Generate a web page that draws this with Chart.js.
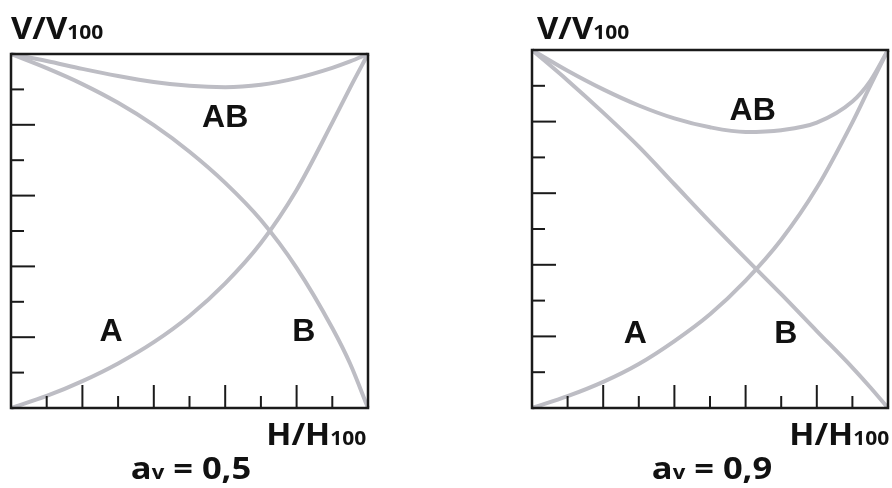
<!DOCTYPE html>
<html lang="pt">
<head>
  <meta charset="UTF-8">
  <title>V/V100 x H/H100</title>
  <script src="https://cdn.jsdelivr.net/npm/chart.js"></script>
  <style>
    body {
      margin: 0;
      width: 892px;
      height: 488px;
      background: #fff;
      position: relative;
      overflow: hidden;
      font-family: 'Open Sans', sans-serif;
    }
    .painel {
      position: absolute;
      top: 0;
      width: 446px;
      height: 488px;
    }
    .rotulo {
      position: absolute;
      font-weight: 700;
      color: #111;
      line-height: 1;
      white-space: nowrap;
    }
    .rotulo small {
      font-size: 0.64em;
    }
    .eixo { font-size: 31px; transform: scaleX(1.06); transform-origin: left top; }
    .eixo.direita { transform-origin: right top; }
    .titulo { font-size: 30px; transform: translateX(-50%) scaleX(1.15); }
  </style>
</head>
<body>
  <div class="painel" style="left:0">
    <canvas id="grafico-05" width="446" height="488"></canvas>
  </div>
  <div class="painel" style="left:446px">
    <canvas id="grafico-09" width="446" height="488"></canvas>
  </div>

  <div class="rotulo eixo" style="left:11px; top:12px">V/V<small>100</small></div>
  <div class="rotulo eixo direita" style="right:526px; top:418px">H/H<small>100</small></div>
  <div class="rotulo titulo" style="left:191px; top:453px">a<small>v</small> = 0,5</div>

  <div class="rotulo eixo" style="left:537px; top:12px">V/V<small>100</small></div>
  <div class="rotulo eixo direita" style="right:3px; top:418px">H/H<small>100</small></div>
  <div class="rotulo titulo" style="left:712px; top:453px">a<small>v</small> = 0,9</div>

  <script>
    // H/H100 (eixo x) comum a todas as curvas
    const hValores = [0, 0.1, 0.2, 0.3, 0.4, 0.5, 0.6, 0.7, 0.8, 0.9, 0.95, 1];

    // av = 0,5
    const curvaA05 = [0, 0.034, 0.076, 0.126, 0.186, 0.26, 0.352, 0.466, 0.616, 0.806, 0.905, 1];
    const curvaB05 = [1, 0.96, 0.915, 0.862, 0.799, 0.724, 0.636, 0.531, 0.396, 0.226, 0.125, 0];
    const curvaAB05 = [1, 0.98, 0.958, 0.938, 0.921, 0.91, 0.906, 0.913, 0.932, 0.961, 0.979, 1];

    // av = 0,9
    const curvaA09 = [0, 0.033, 0.073, 0.123, 0.187, 0.262, 0.356, 0.47, 0.615, 0.798, 0.9, 1];
    const curvaB09 = [1, 0.915, 0.825, 0.73, 0.625, 0.52, 0.418, 0.318, 0.215, 0.113, 0.058, 0];
    const curvaAB09 = [1, 0.942, 0.89, 0.845, 0.809, 0.784, 0.771, 0.776, 0.797, 0.856, 0.913, 1];

    // marcas dos eixos (maiores a cada 0,2)
    const marcas = [0.1, 0.2, 0.3, 0.4, 0.5, 0.6, 0.7, 0.8, 0.9];
    const marcasMaiores = [0.2, 0.4, 0.6, 0.8];

    const corCurva = '#bdbdc4';

    function pontos(valores) {
      return hValores.map((h, i) => ({ x: h, y: valores[i] }));
    }

    function serie(nome, valores) {
      return {
        label: nome,
        data: pontos(valores),
        borderColor: corCurva,
        borderWidth: 4,
        pointRadius: 0,
        cubicInterpolationMode: 'monotone',
        clip: false
      };
    }

    // desenha a moldura, as marcas internas e as letras A, B, AB
    const moldura = {
      id: 'moldura',
      afterDatasetsDraw(chart, args, opcoes) {
        const ctx = chart.ctx;
        const a = chart.chartArea;
        const x = chart.scales.x;
        const y = chart.scales.y;
        ctx.save();
        ctx.strokeStyle = '#1a1a1a';
        ctx.lineWidth = 2.5;
        ctx.strokeRect(a.left, a.top, a.right - a.left, a.bottom - a.top);
        ctx.lineWidth = 2;
        marcas.forEach(v => {
          const maior = marcasMaiores.includes(v);
          const px = x.getPixelForValue(v);
          ctx.beginPath();
          ctx.moveTo(px, a.bottom);
          ctx.lineTo(px, a.bottom - (maior ? 23 : 12));
          ctx.stroke();
          const py = y.getPixelForValue(v);
          ctx.beginPath();
          ctx.moveTo(a.left, py);
          ctx.lineTo(a.left + (maior ? 24 : 13), py);
          ctx.stroke();
        });
        ctx.fillStyle = '#111';
        ctx.font = 'bold 32px "Liberation Sans", Arial, sans-serif';
        ctx.textAlign = 'center';
        ctx.textBaseline = 'middle';
        opcoes.letras.forEach(l => {
          ctx.fillText(l.texto, x.getPixelForValue(l.h), y.getPixelForValue(l.v));
        });
        ctx.restore();
      }
    };

    function criarGrafico(id, a, b, ab, padding, letras) {
      return new Chart(document.getElementById(id), {
        type: 'line',
        data: {
          datasets: [serie('A', a), serie('B', b), serie('AB', ab)]
        },
        options: {
          responsive: false,
          animation: false,
          layout: { padding: padding },
          scales: {
            x: { type: 'linear', min: 0, max: 1, display: false },
            y: { type: 'linear', min: 0, max: 1, display: false }
          },
          plugins: {
            legend: { display: false },
            tooltip: { enabled: false },
            moldura: { letras: letras }
          }
        },
        plugins: [moldura]
      });
    }

    criarGrafico('grafico-05', curvaA05, curvaB05, curvaAB05,
      { left: 11, top: 54, right: 78, bottom: 80 },
      [
        { texto: 'A', h: 0.28, v: 0.215 },
        { texto: 'B', h: 0.82, v: 0.215 },
        { texto: 'AB', h: 0.6, v: 0.82 }
      ]);

    criarGrafico('grafico-09', curvaA09, curvaB09, curvaAB09,
      { left: 86, top: 50, right: 4, bottom: 80 },
      [
        { texto: 'A', h: 0.29, v: 0.205 },
        { texto: 'B', h: 0.713, v: 0.205 },
        { texto: 'AB', h: 0.62, v: 0.83 }
      ]);
  </script>
</body>
</html>
